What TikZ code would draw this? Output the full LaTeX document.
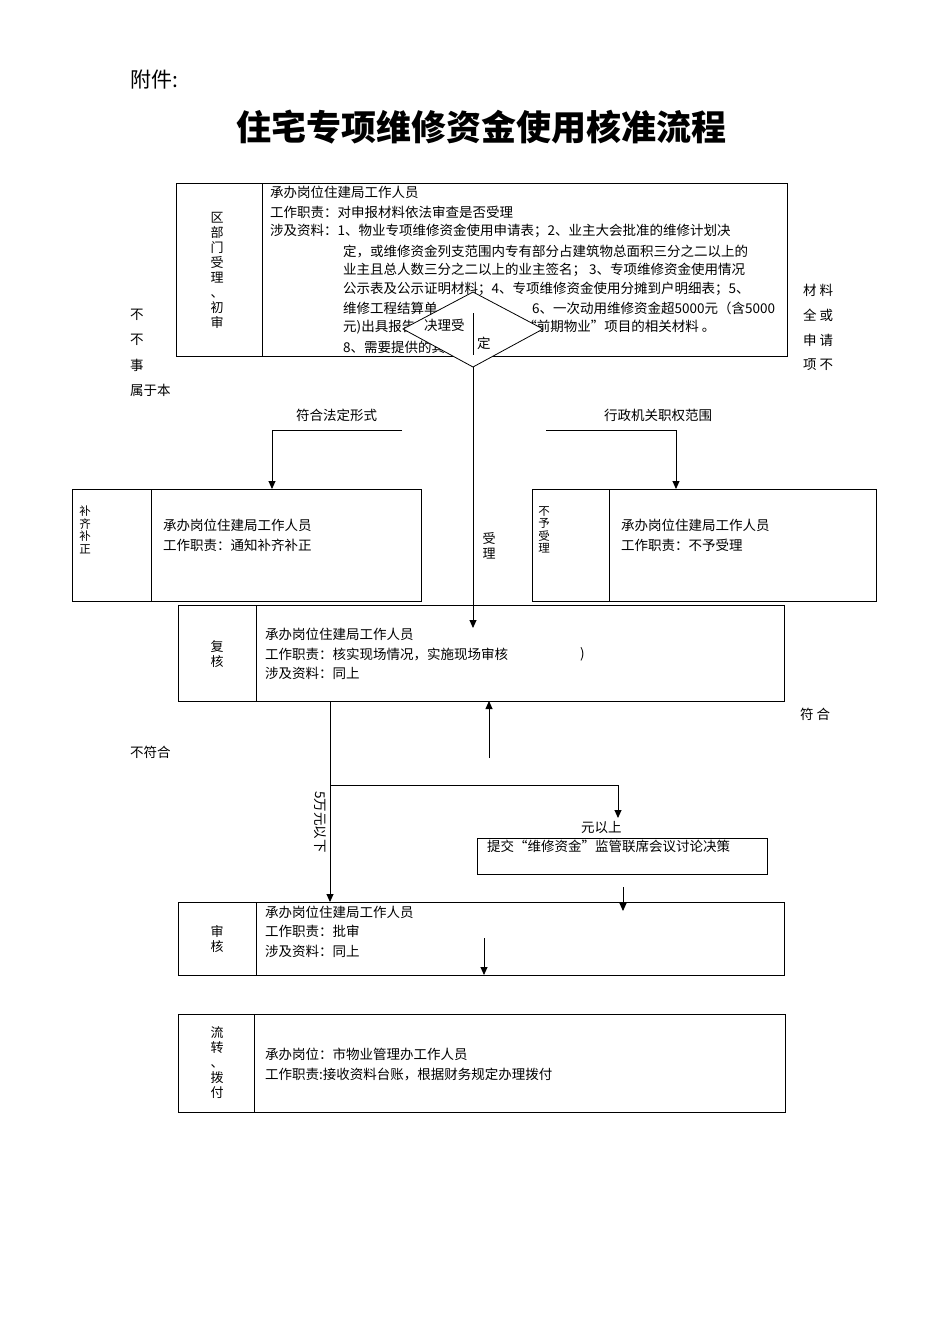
\documentclass[tikz,border=0pt]{standalone}
\usepackage{fontspec}
\setmainfont{Liberation Serif}
\newfontfamily\cjk{Noto Sans CJK SC}
\usetikzlibrary{arrows.meta}
\begin{document}
\begin{tikzpicture}[x=1pt,y=-1pt,
  bx/.style={draw,line width=0.8pt},
  t/.style={anchor=west,inner sep=0pt,font=\cjk\fontsize{13.5}{15}\selectfont},
  vl/.style={inner sep=0pt,align=center,font=\cjk\fontsize{13}{15}\selectfont},
  ar/.style={line width=0.9pt,-{Triangle[length=8pt,width=7pt]}},
  ln/.style={line width=0.9pt}]
\useasboundingbox[fill=white] (0,0) rectangle (950,1344);
\node[anchor=west,inner sep=0pt,font=\cjk\fontsize{21}{23}\selectfont] (fj) at (130,80) {附件:};
\node[inner sep=0pt,font=\cjk\bfseries\fontsize{35}{37}\selectfont] (title) at (481,127) {住宅专项维修资金使用核准流程};
% top box
\draw[bx] (176,183) rectangle (787,356);
\draw[bx] (262,183) -- (262,356);
\node[vl] (l1) at (217,270) {区\\部\\门\\受\\理\\、\\初\\审};
\node[t] at (270,192) {承办岗位住建局工作人员};
\node[t] at (270,212) {工作职责：对申报材料依法审查是否受理};
\node[t] at (270,231) {涉及资料：1、物业专项维修资金使用申请表；2、业主大会批准的维修计划决};
\node[t] at (343,251) {定，或维修资金列支范围内专有部分占建筑物总面积三分之二以上的};
\node[t] at (343,270) {业主且总人数三分之二以上的业主签名；\ 3、专项维修资金使用情况};
\node[t] at (343,289) {公示表及公示证明材料；4、专项维修资金使用分摊到户明细表；5、};
\node[t] at (343,308) {维修工程结算单\hspace{7em}6、一次动用维修资金超5000元（含5000};
\node[t] at (343,327) {元)出具报告\hspace{8em}“前期物业”项目的相关材料 。};
\node[t] at (343,347) {8、需要提供的其他材料。};
% diamond
\coordinate (dt) at (473,292); \coordinate (db) at (473,367);
\draw[bx,fill=white] (473,292) -- (543,329) -- (473,367) -- (403,329) -- cycle;
\node[t] at (424,325) {决理受};
\draw[ln] (473,313) -- (473,355);
\node[t] at (477,343) {定};
% side texts
\foreach \yy/\s in {315/不,340/不,365/事} \node[t] at (130,\yy) {\s};
\node[t] at (130,390) {属于本};
\foreach \yy/\s in {290/材\ 料,315/全\ 或,340/申\ 请,365/项\ 不} \node[t] at (803,\yy) {\s};
\node[t] at (296,415) {符合法定形式};
\node[t] at (604,415) {行政机关职权范围};
% left box
\draw[bx] (72,489) rectangle (421,601); \draw[bx] (151,489) -- (151,601);
\node[vl,font=\cjk\fontsize{11.5}{12.5}\selectfont] (l2) at (85,530) {补\\齐\\补\\正};
\node[t] at (163,525) {承办岗位住建局工作人员};
\node[t] at (163,545) {工作职责：通知补齐补正};
% right box
\draw[bx] (532,489) rectangle (876,601); \draw[bx] (609,489) -- (609,601);
\node[vl,font=\cjk\fontsize{11.5}{12.5}\selectfont] (l3) at (544,530) {不\\予\\受\\理};
\node[t] at (621,525) {承办岗位住建局工作人员};
\node[t] at (621,545) {工作职责：不予受理};
\coordinate (a1) at (402,430); \coordinate (a2) at (272,430); \coordinate (a3) at (272,489);
\draw[ar] (a1) -- (a2) -- (a3);
\coordinate (b1) at (546,430); \coordinate (b2) at (676,430); \coordinate (b3) at (676,489);
\draw[ar] (b1) -- (b2) -- (b3);
\coordinate (c1) at (473,628);
\draw[ar] (db) -- (c1);
\node[vl] at (489,546) {受\\理};
% fuhe box
\draw[bx] (178,605) rectangle (784,701); \draw[bx] (256,605) -- (256,701);
\node[vl] (l4) at (217,654) {复\\核};
\node[t] at (265,634) {承办岗位住建局工作人员};
\node[t] at (265,654) {工作职责：核实现场情况，实施现场审核};
\node[t] at (580,654) {)};
\node[t] at (265,673) {涉及资料：同上};
\node[t] at (800,714) {符\ 合};
\node[t] at (130,752) {不符合};
\coordinate (u1) at (489,758); \coordinate (u2) at (489,701);
\draw[ar] (u1) -- (u2);
\coordinate (v1) at (330,701); \coordinate (v2) at (330,902);
\draw[ar] (v1) -- (v2);
\coordinate (h1) at (330,785); \coordinate (h2) at (618,785); \coordinate (h3) at (618,818);
\draw[ar] (h1) -- (h2) -- (h3);
\node[inner sep=0pt,rotate=-90,font=\cjk\fontsize{13.5}{15}\selectfont] at (320,822) {5万元以下};
\node[t] at (581,828) {元以上};
\draw[bx] (477,838) rectangle (767,874);
\node[t] at (487,846) {提交“维修资金”监管联席会议讨论决策};
\coordinate (w1) at (623,887); \coordinate (w2) at (623,911);
\draw[ar] (w1) -- (w2);
% shenhe
\draw[bx] (178,902) rectangle (784,975); \draw[bx] (256,902) -- (256,975);
\node[vl] (l5) at (217,939) {审\\核};
\node[t] at (265,912) {承办岗位住建局工作人员};
\node[t] at (265,931) {工作职责：批审};
\node[t] at (265,951) {涉及资料：同上};
\coordinate (x1) at (484,938); \coordinate (x2) at (484,975);
\draw[ar] (x1) -- (x2);
% liuzhuan
\draw[bx] (178,1014) rectangle (785,1112); \draw[bx] (254,1014) -- (254,1112);
\node[vl] (l6) at (217,1063) {流\\转\\、\\拨\\付};
\node[t] at (265,1054) {承办岗位：市物业管理办工作人员};
\node[t] at (265,1074) {工作职责:接收资料台账，根据财务规定办理拨付};
\end{tikzpicture}
\end{document}
